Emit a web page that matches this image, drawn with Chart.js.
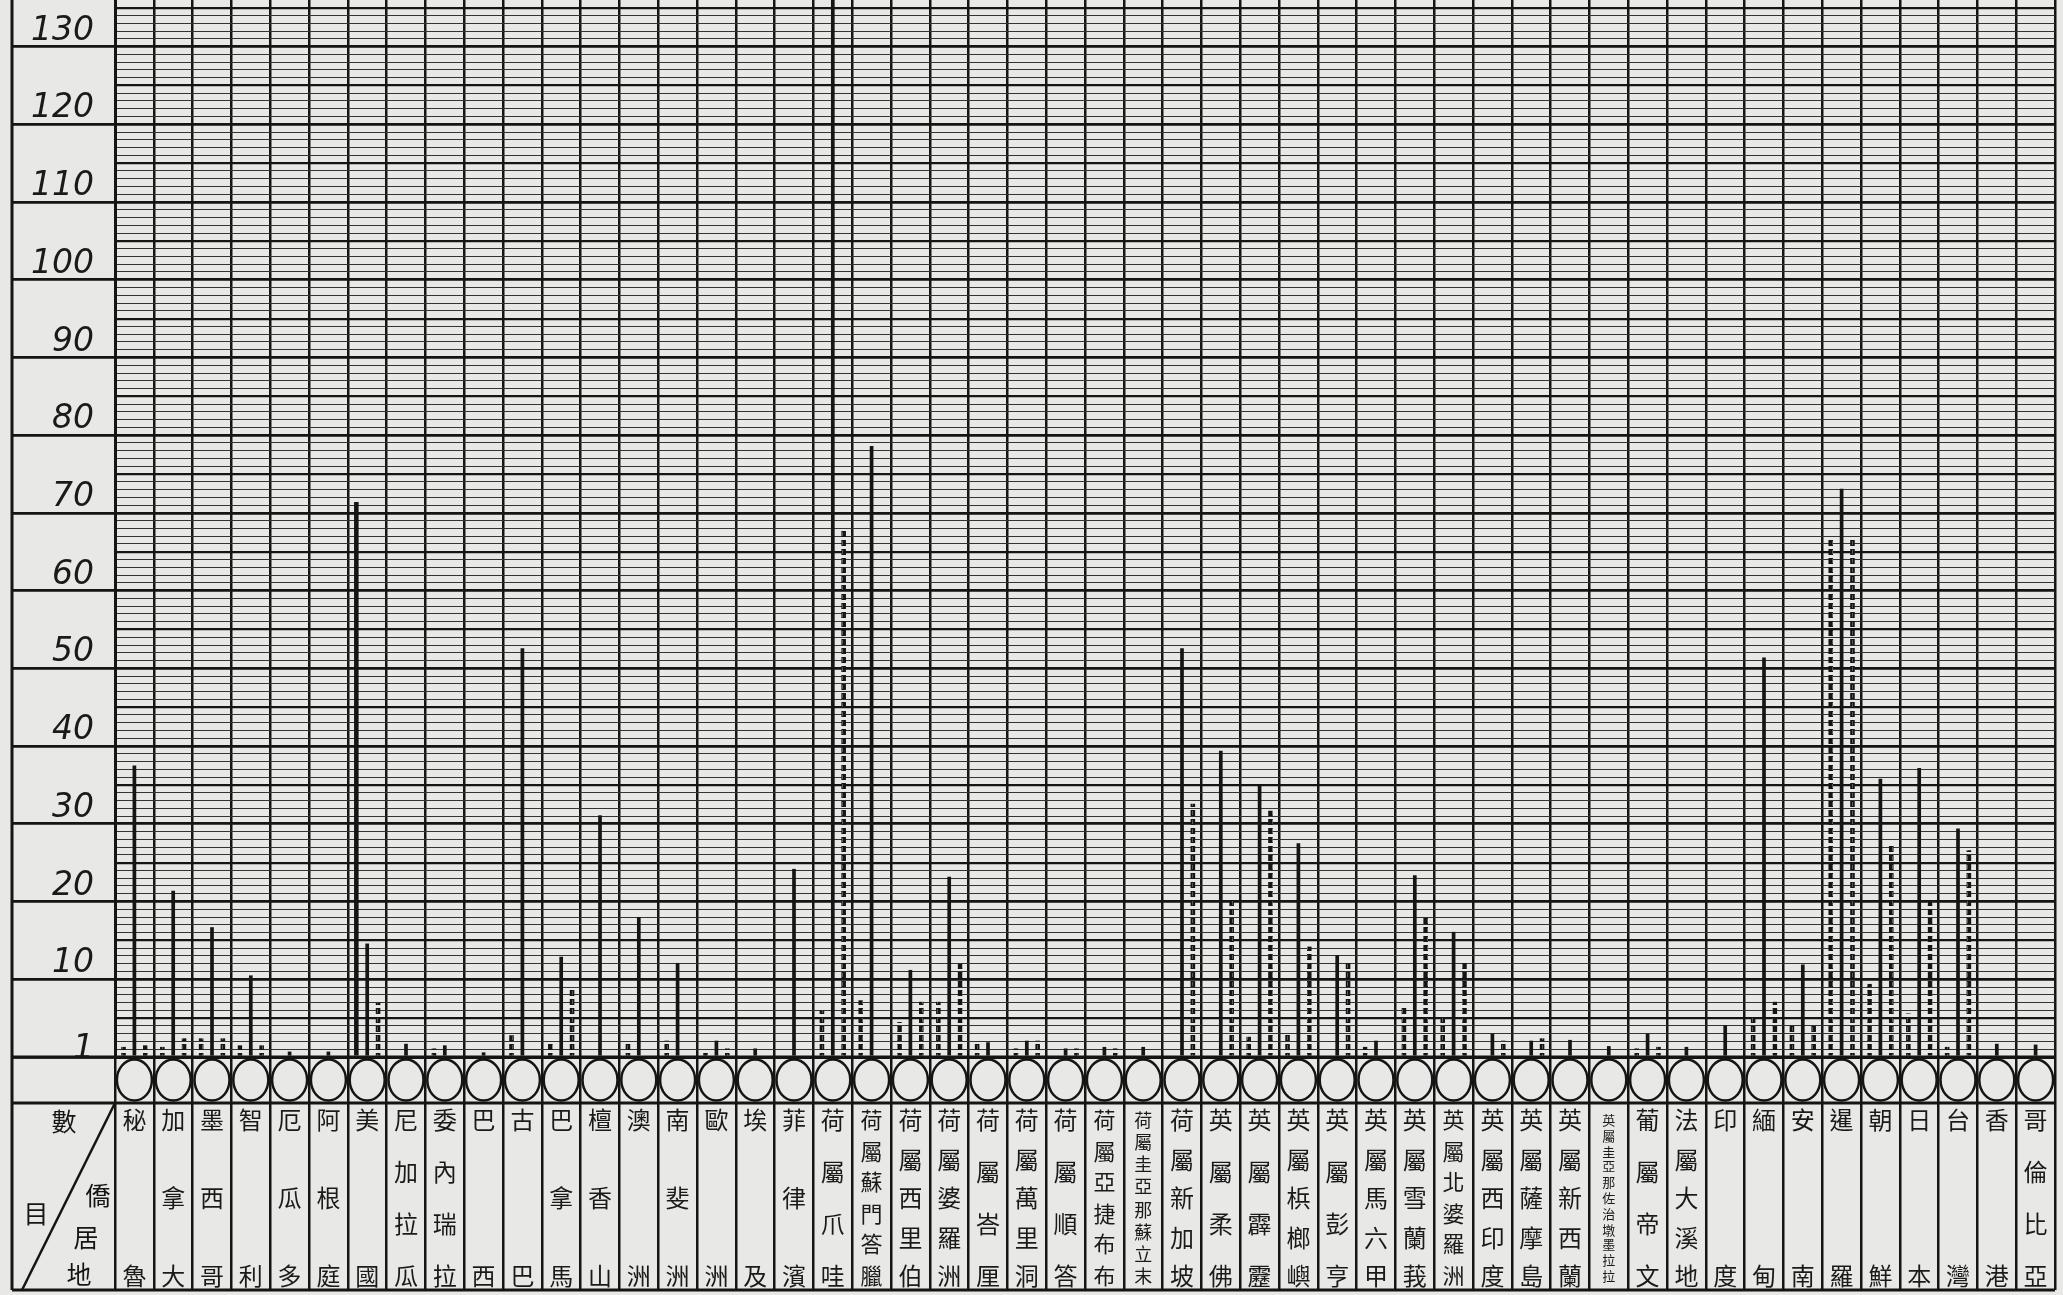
<!DOCTYPE html>
<html>
<head>
<meta charset="utf-8">
<script src="https://cdn.jsdelivr.net/npm/chart.js@4.4.1/dist/chart.umd.min.js"></script>
<style>
  html, body { margin: 0; padding: 0; background: #e8e8e6; }
  #wrap { width: 2063px; height: 1295px; }
</style>
</head>
<body>
<div id="wrap"><canvas id="myChart" width="2063" height="1295"></canvas></div>
<script>
// 僑居地
const places = ['秘魯','加拿大','墨西哥','智利','厄瓜多','阿根庭','美國','尼加拉瓜','委內瑞拉','巴西',
  '古巴','巴拿馬','檀香山','澳洲','南斐洲','歐洲','埃及','菲律濱','荷屬爪哇','荷屬蘇門答臘',
  '荷屬西里伯','荷屬婆羅洲','荷屬峇厘','荷屬萬里洞','荷屬順答','荷屬亞捷布布','荷屬圭亞那蘇立末','荷屬新加坡','英屬柔佛','英屬霹靂',
  '英屬梹榔嶼','英屬彭亨','英屬馬六甲','英屬雪蘭莪','英屬北婆羅洲','英屬西印度','英屬薩摩島','英屬新西蘭','英屬圭亞那佐治墩墨拉拉','葡屬帝文',
  '法屬大溪地','印度','緬甸','安南','暹羅','朝鮮','日本','台灣','香港','哥倫比亞'];

// three lines per place: left, middle (solid), right (dashed)
const leftDash = [1.3, 1.3, 2.4, 1.5, 0, 0, 71.4, 0, 1.1, 0,
  2.8, 1.7, 0, 1.9, 2.1, 0.9, 0, 0, 6.0, 7.3,
  4.5, 7.1, 1.9, 1.1, 0, 0, 0, 0, 0, 2.6,
  3.2, 0, 1.3, 6.4, 5.4, 0, 0, 0, 0, 1.1,
  0, 0, 5.4, 4.3, 66.8, 9.4, 5.6, 1.3, 0, 0];
const middleSolid = [37.5, 21.4, 16.7, 10.5, 0.7, 0.7, 14.6, 1.7, 1.5, 0.6,
  52.6, 12.9, 31.1, 18.0, 12.1, 2.1, 1.1, 24.2, 145, 78.6,
  11.2, 23.2, 1.9, 2.1, 1.1, 1.3, 1.3, 52.6, 39.4, 35.1,
  27.5, 13.1, 2.1, 23.4, 16.1, 3.0, 2.1, 2.2, 1.4, 3.0,
  1.3, 4.1, 51.4, 11.9, 73.1, 35.8, 37.2, 29.4, 1.7, 1.6];
const rightDash = [1.5, 2.4, 2.4, 1.5, 0, 0, 7.0, 0, 0, 0,
  0, 9.0, 0, 0, 0, 1.1, 0, 0, 67.7, 0,
  7.1, 12.0, 0, 2.1, 1.1, 1.1, 0, 32.6, 20.2, 31.7,
  14.2, 12.2, 0, 18.2, 12.2, 2.1, 2.4, 0, 0, 1.3,
  0, 0, 7.1, 4.3, 66.7, 27.4, 20.6, 26.6, 0, 0];

const yTickLabels = ['1','10','20','30','40','50','60','70','80','90','100','110','120','130'];

const INK = '#151515';
const PAPER = '#e8e8e6';

// vertical label: spread the characters down the column
function column(name) {
  const slots = 78;
  const lines = new Array(slots + 1).fill('');
  const n = name.length;
  for (let i = 0; i < n; i++) {
    lines[Math.round(i * slots / (n - 1))] = name[i];
  }
  return lines;
}

function labelSize(n) {
  if (n <= 5) return 24;
  if (n === 6) return 22;
  if (n <= 8) return 18;
  return 13;
}

function yLabelFor(v) {
  const k = yTickLabels.findIndex((t, i) => (i === 0 ? 1 : Number(t) + 2) === v);
  return k < 0 ? '' : yTickLabels[k];
}

const ctx = document.getElementById('myChart').getContext('2d');

// dashed line fill: inked blocks with a thin pale core
const dashCanvas = document.createElement('canvas');
dashCanvas.width = 5;
dashCanvas.height = 9;
const dg = dashCanvas.getContext('2d');
dg.fillStyle = INK;
dg.fillRect(0, 0, 5, 6);
dg.fillStyle = '#5a5a58';
dg.fillRect(2, 1, 1, 4);
const dashed = ctx.createPattern(dashCanvas, 'repeat');

const tableFrame = {
  id: 'tableFrame',
  beforeDraw(chart) {
    const c = chart.ctx;
    c.save();
    c.fillStyle = PAPER;
    c.fillRect(0, 0, chart.width, chart.height);
    c.restore();
  },
  afterDraw(chart) {
    const c = chart.ctx;
    const a = chart.chartArea;
    const x = chart.scales.x;
    const left = 12;
    const rowTop = a.bottom + 46;
    const rowBottom = 1290;
    c.save();
    c.strokeStyle = INK;
    c.lineWidth = 3;
    c.beginPath();
    c.moveTo(left, 0); c.lineTo(left, rowBottom);
    c.moveTo(left, rowTop); c.lineTo(a.right, rowTop);
    c.moveTo(left, rowBottom); c.lineTo(a.right, rowBottom);
    c.moveTo(left, a.bottom); c.lineTo(a.right, a.bottom);
    c.stroke();
    c.lineWidth = 2.5;
    c.beginPath();
    c.moveTo(a.left, rowTop);
    c.lineTo(left + 10, rowBottom);
    c.stroke();

    places.forEach((p, i) => {
      const cx = x.getPixelForValue(i);
      c.beginPath();
      c.ellipse(cx, a.bottom + 23, 17.5, 20.5, 0, 0, Math.PI * 2);
      c.fillStyle = PAPER;
      c.fill();
      c.lineWidth = 2.5;
      c.stroke();
    });

    c.fillStyle = INK;
    c.font = '25px "Noto Sans CJK TC"';
    c.textAlign = 'center';
    c.textBaseline = 'middle';
    c.fillText('數', 64, rowTop + 18);
    c.fillText('目', 36, rowTop + 110);
    c.fillText('僑', 98, rowTop + 92);
    c.fillText('居', 86, rowTop + 134);
    c.fillText('地', 79, rowTop + 171);
    c.restore();
  }
};

const myChart = new Chart(ctx, {
  type: 'bar',
  data: {
    labels: places.map(column),
    datasets: [{
      label: 'left',
      data: leftDash,
      backgroundColor: places.map(p => p === '美國' ? INK : dashed),
      barPercentage: 0.42
    }, {
      label: 'middle',
      data: middleSolid,
      backgroundColor: INK,
      barPercentage: 0.34
    }, {
      label: 'right',
      data: rightDash,
      backgroundColor: dashed,
      barPercentage: 0.42
    }]
  },
  plugins: [tableFrame],
  options: {
    responsive: false,
    animation: false,
    devicePixelRatio: 1,
    categoryPercentage: 0.84,
    layout: { padding: { left: 12, right: 8, top: 0, bottom: 0 } },
    plugins: { legend: { display: false }, tooltip: { enabled: false } },
    scales: {
      x: {
        grid: {
          offset: true,
          color: INK,
          lineWidth: 2.5,
          drawTicks: true,
          tickLength: 233,
          tickColor: INK,
          tickWidth: 2.5
        },
        border: { color: INK, width: 3 },
        ticks: {
          autoSkip: false,
          maxRotation: 0,
          minRotation: 0,
          padding: -171,
          color: '#1a1a1a',
          font: (c) => ({
            family: '"Noto Sans CJK TC"',
            size: labelSize(places[c.index] ? places[c.index].length : 2),
            lineHeight: '2px'
          })
        },
        afterFit: (s) => {
          s.height = 238;
          s.paddingLeft = 0;
          s.paddingRight = 0;
        }
      },
      y: {
        min: 0,
        max: 136,
        grid: {
          color: (c) => c.tick.value % 5 === 0 ? INK : '#333',
          lineWidth: (c) => c.tick.value % 10 === 0 ? 2.8 : (c.tick.value % 5 === 0 ? 2.2 : 1.1),
          drawTicks: true,
          tickLength: 103,
          tickColor: (c) => c.tick.value % 10 === 0 ? INK : 'rgba(0,0,0,0)',
          tickWidth: 2.8
        },
        border: { color: INK, width: 3 },
        ticks: {
          stepSize: 1,
          autoSkip: false,
          padding: -82,
          color: '#1a1a1a',
          font: { family: '"DejaVu Sans"', style: 'italic', size: 33 },
          callback: (v) => yLabelFor(v)
        },
        afterFit: (s) => {
          s.width = 103;
          s.paddingTop = 0;
          s.paddingBottom = 0;
        }
      }
    }
  }
});
</script>
</body>
</html>
